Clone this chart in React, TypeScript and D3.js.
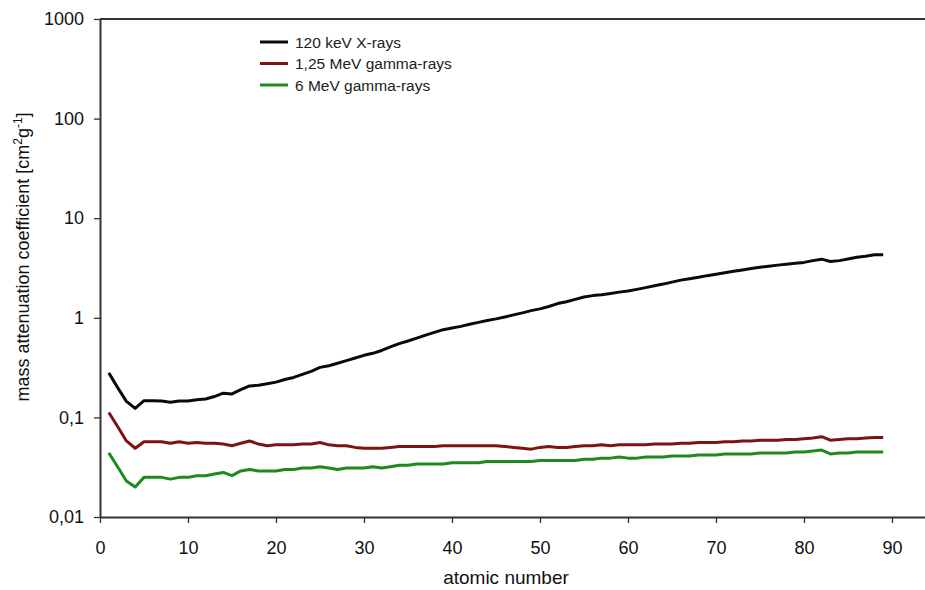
import * as d3 from 'd3';
import { useEffect, useRef } from 'react';

// atomic number Z = 1..89
const atomicNumbers = d3.range(1, 90);

const xray120keV = [
    0.28, 0.2, 0.145, 0.123, 0.147, 0.147, 0.146, 0.142, 0.146, 0.146,
    0.15, 0.153, 0.162, 0.175, 0.172, 0.19, 0.207, 0.21, 0.218, 0.226,
    0.24, 0.252, 0.27, 0.29, 0.318, 0.33, 0.35, 0.372, 0.395, 0.42,
    0.44, 0.47, 0.51, 0.55, 0.585, 0.625, 0.67, 0.715, 0.76, 0.79,
    0.82, 0.86, 0.9, 0.94, 0.975, 1.02, 1.07, 1.12, 1.18, 1.23,
    1.3, 1.39, 1.45, 1.53, 1.62, 1.67, 1.7, 1.75, 1.81, 1.86,
    1.93, 2.01, 2.1, 2.18, 2.28, 2.39, 2.47, 2.55, 2.65, 2.74,
    2.84, 2.93, 3.02, 3.12, 3.22, 3.3, 3.38, 3.45, 3.52, 3.6,
    3.75, 3.88, 3.68, 3.75, 3.9, 4.05, 4.15, 4.3, 4.3,
];

const gamma125MeV = [
    0.112, 0.081, 0.058, 0.049, 0.057, 0.057, 0.057, 0.055, 0.057, 0.055,
    0.056, 0.055, 0.055, 0.054, 0.052, 0.055, 0.058, 0.054, 0.052, 0.053,
    0.053, 0.053, 0.054, 0.054, 0.056, 0.053, 0.052, 0.052, 0.05, 0.049,
    0.049, 0.049, 0.05, 0.051, 0.051, 0.051, 0.051, 0.051, 0.052, 0.052,
    0.052, 0.052, 0.052, 0.052, 0.052, 0.051, 0.05, 0.049, 0.048, 0.05,
    0.051, 0.05, 0.05, 0.051, 0.052, 0.052, 0.053, 0.052, 0.053, 0.053,
    0.053, 0.053, 0.054, 0.054, 0.054, 0.055, 0.055, 0.056, 0.056, 0.056,
    0.057, 0.057, 0.058, 0.058, 0.059, 0.059, 0.059, 0.06, 0.06, 0.061,
    0.062, 0.064, 0.059, 0.06, 0.061, 0.061, 0.062, 0.063, 0.063,
];

const gamma6MeV = [
    0.044, 0.032, 0.023, 0.02, 0.025, 0.025, 0.025, 0.024, 0.025, 0.025,
    0.026, 0.026, 0.027, 0.028, 0.026, 0.029, 0.03, 0.029, 0.029, 0.029,
    0.03, 0.03, 0.031, 0.031, 0.032, 0.031, 0.03, 0.031, 0.031, 0.031,
    0.032, 0.031, 0.032, 0.033, 0.033, 0.034, 0.034, 0.034, 0.034, 0.035,
    0.035, 0.035, 0.035, 0.036, 0.036, 0.036, 0.036, 0.036, 0.036, 0.037,
    0.037, 0.037, 0.037, 0.037, 0.038, 0.038, 0.039, 0.039, 0.04, 0.039,
    0.039, 0.04, 0.04, 0.04, 0.041, 0.041, 0.041, 0.042, 0.042, 0.042,
    0.043, 0.043, 0.043, 0.043, 0.044, 0.044, 0.044, 0.044, 0.045, 0.045,
    0.046, 0.047, 0.043, 0.044, 0.044, 0.045, 0.045, 0.045, 0.045,
];

const seriesNames = ['120 keV X-rays', '1,25 MeV gamma-rays', '6 MeV gamma-rays'];
const seriesColors = ['#0a0a0a', '#7d1414', '#1e8a1e'];

const xTicks = [0, 10, 20, 30, 40, 50, 60, 70, 80, 90];
const yTicks = [0.01, 0.1, 1, 10, 100, 1000];
const yTickLabels = ['0,01', '0,1', '1', '10', '100', '1000'];

export default function App() {
    const chartRef = useRef(null);

    useEffect(() => {
        const width = 925;
        const height = 590;
        const left = 100, right = 925, top = 19, bottom = 517;
        const font = 'Liberation Sans, Arial, sans-serif';

        const xScale = d3.scaleLinear().domain([0, 93.75]).range([left, right]);
        const yScale = d3.scaleLog().domain([0.01, 1000]).range([bottom, top]);

        const svg = d3
            .select(chartRef.current)
            .append('svg')
            .attr('width', width)
            .attr('height', height)
            .style('position', 'absolute')
            .style('left', 0)
            .style('top', 0)
            .style('font-family', font);

        svg.append('rect').attr('width', width).attr('height', height).attr('fill', '#fff');

        // top frame line
        svg.append('line')
            .attr('x1', left).attr('x2', right)
            .attr('y1', top).attr('y2', top)
            .attr('stroke', '#333').attr('stroke-width', 2);

        // X axis
        const xAxis = svg.append('g')
            .attr('transform', `translate(0,${bottom})`)
            .call(d3.axisBottom(xScale).tickValues(xTicks).tickSize(6).tickSizeOuter(0).tickPadding(18));
        xAxis.select('.domain').attr('stroke', '#333').attr('stroke-width', 2);
        xAxis.selectAll('.tick line').attr('stroke', '#333').attr('stroke-width', 1.3);
        xAxis.selectAll('text').style('font-size', '18px').style('font-family', font).attr('fill', '#111');

        // Y axis
        const yAxis = svg.append('g')
            .attr('transform', `translate(${left},0)`)
            .call(d3.axisLeft(yScale).tickValues(yTicks).tickSize(6).tickSizeOuter(0).tickPadding(10)
                .tickFormat((d, i) => yTickLabels[i]));
        yAxis.select('.domain').attr('stroke', '#333').attr('stroke-width', 2);
        yAxis.selectAll('.tick line').attr('stroke', '#333').attr('stroke-width', 1.3);
        yAxis.selectAll('text').style('font-size', '18px').style('font-family', font).attr('fill', '#111');

        // Lines
        const allSeries = [xray120keV, gamma125MeV, gamma6MeV];
        const line = d3.line<number>()
            .x((d, i) => xScale(atomicNumbers[i]))
            .y((d) => yScale(d));

        allSeries.forEach((values, k) => {
            svg.append('path')
                .datum(values)
                .attr('d', line)
                .attr('fill', 'none')
                .attr('stroke', seriesColors[k])
                .attr('stroke-width', 3)
                .attr('stroke-linejoin', 'round');
        });

        // Legend
        const legend = svg.append('g').attr('transform', 'translate(260,42)');
        seriesNames.forEach((name, k) => {
            const g = legend.append('g').attr('transform', `translate(0,${k * 21.5})`);
            g.append('line')
                .attr('x1', 0).attr('x2', 28)
                .attr('stroke', seriesColors[k]).attr('stroke-width', 3);
            g.append('text')
                .attr('x', 35).attr('y', 5.5)
                .style('font-size', '15.5px')
                .attr('fill', '#222')
                .text(name);
        });

        // Axis titles
        svg.append('text')
            .attr('x', 506)
            .attr('y', 584)
            .attr('text-anchor', 'middle')
            .style('font-size', '19px')
            .attr('fill', '#111')
            .text('atomic number');

        const yTitle = svg.append('text')
            .attr('transform', 'translate(29,257) rotate(-90)')
            .attr('text-anchor', 'middle')
            .style('font-size', '18px')
            .attr('fill', '#111');
        yTitle.append('tspan').text('mass attenuation coefficient [cm');
        yTitle.append('tspan').attr('dy', -7).style('font-size', '12px').text('2');
        yTitle.append('tspan').attr('dy', 7).text('g');
        yTitle.append('tspan').attr('dy', -7).style('font-size', '12px').text('-1');
        yTitle.append('tspan').attr('dy', 7).text(']');

        return () => {
            d3.select(chartRef.current).selectAll('*').remove();
        };
    }, []);

    return <div ref={chartRef}></div>;
}
